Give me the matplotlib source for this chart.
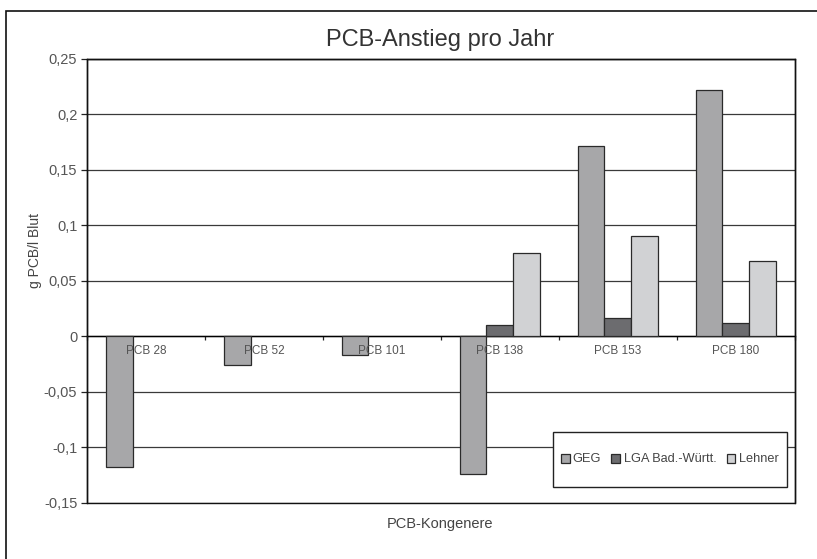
import numpy as np
import matplotlib
matplotlib.use('Agg')
import matplotlib.pyplot as plt
from matplotlib.patches import Rectangle
from matplotlib.ticker import FuncFormatter, MultipleLocator

plt.rcParams['font.family'] = ['Liberation Sans', 'DejaVu Sans']

# PCB-Kongenere und jährlicher Anstieg (g PCB/l Blut)
kongenere = ['PCB 28', 'PCB 52', 'PCB 101', 'PCB 138', 'PCB 153', 'PCB 180']
geg = [-0.118, -0.026, -0.017, -0.124, 0.171, 0.222]
lga = [np.nan, np.nan, np.nan, 0.010, 0.016, 0.012]
lehner = [np.nan, np.nan, np.nan, 0.075, 0.090, 0.068]

serien = [('GEG', geg, '#a7a7a9'),
          ('LGA Bad.-Württ.', lga, '#6c6c6f'),
          ('Lehner', lehner, '#d1d2d4')]

W, H = 817, 559
fig = plt.figure(figsize=(W / 100, H / 100), dpi=100)
ax = fig.add_axes([87 / W, 1 - 502.7 / H, 707.5 / W, (502.7 - 58.5) / H])

x = np.arange(len(kongenere))
breite = 0.226
for i, (name, werte, farbe) in enumerate(serien):
    ax.bar(x + (i - 1) * breite, werte, breite, color=farbe,
           edgecolor='#2a2a2a', linewidth=0.9, label=name, zorder=3)

ax.set_xlim(-0.5, len(kongenere) - 0.5)
ax.set_ylim(-0.15, 0.25)
ax.yaxis.set_major_locator(MultipleLocator(0.05))
ax.yaxis.set_major_formatter(FuncFormatter(
    lambda v, p: ('%g' % round(v, 2)).replace('.', ',')))
ax.grid(axis='y', color='#3a3a3a', linewidth=0.9, zorder=0)
ax.tick_params(axis='y', direction='out', length=4, width=0.9,
               labelsize=10.5, colors='#222222', labelcolor='#555555', pad=3)

# Kategorieachse liegt auf der Nulllinie
ax.spines['bottom'].set_position(('data', 0))
ax.spines['bottom'].set_linewidth(1.0)
ax.set_xticks(np.arange(len(kongenere) + 1) - 0.5)
ax.set_xticklabels([])
ax.tick_params(axis='x', direction='out', length=3, width=0.9, colors='#222222')
for xi, name in zip(x, kongenere):
    ax.annotate(name, (xi, 0), xytext=(0, -11), textcoords='offset points',
                ha='center', va='center', fontsize=8.5, color='#555555', zorder=5)

for s in ['left', 'top', 'right']:
    ax.spines[s].set_linewidth(1.0)
ax.add_patch(Rectangle((0, 0), 1, 1, transform=ax.transAxes, fill=False,
                       edgecolor='#111111', linewidth=1.0, zorder=4,
                       clip_on=False))

fig.text(35 / W, 1 - 250 / H, 'g PCB/l Blut', rotation=90, ha='center',
         va='center', fontsize=10, color='#444444')
fig.text(440 / W, 1 - 524 / H, 'PCB-Kongenere', ha='center', va='center',
         fontsize=10.5, color='#444444')
fig.text(440 / W, 1 - 40 / H, 'PCB-Anstieg pro Jahr', ha='center',
         va='center', fontsize=17, color='#333333')

# Legende in eigenem Kasten
ax.add_patch(Rectangle((553 / W, 1 - 486.7 / H), (786.7 - 553) / W, (486.7 - 432) / H,
                       transform=fig.transFigure, facecolor='white',
                       edgecolor='#222222', linewidth=1.0, zorder=6, clip_on=False))
leg = ax.legend(ncol=3, loc='center', bbox_to_anchor=(669.5 / W, 1 - 459.5 / H),
                bbox_transform=fig.transFigure, fontsize=9.2, frameon=False,
                handlelength=0.7, handleheight=0.7, handletextpad=0.25,
                columnspacing=0.8, borderpad=0, borderaxespad=0)
leg.set_zorder(7)
for t in leg.get_texts():
    t.set_color('#444444')

# Rahmen um das ganze Diagramm
fig.patches.append(Rectangle((5.5 / W, -0.05), 1.1, 1 - 10.7 / H + 0.05,
                             transform=fig.transFigure, fill=False,
                             edgecolor='#111111', linewidth=1.2))

fig.savefig('out.png', dpi=100)
